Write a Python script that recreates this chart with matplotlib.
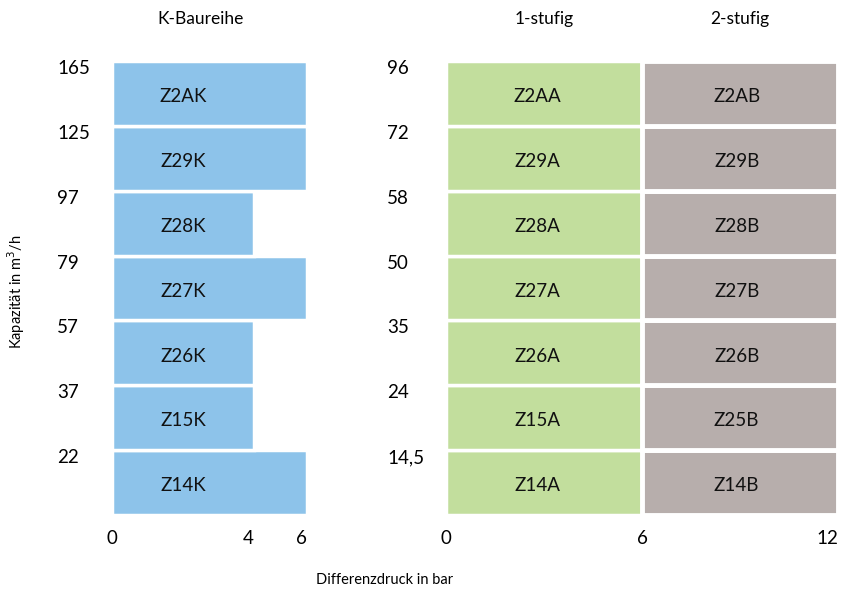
import numpy as np
import matplotlib
matplotlib.use('Agg')
import matplotlib.pyplot as plt
from matplotlib.transforms import ScaledTranslation, blended_transform_factory

plt.rcParams['font.family'] = ['Lato', 'DejaVu Sans']

# data, bottom row first
k_caps = ['22', '37', '57', '79', '97', '125', '165']
k_models = ['Z14K', 'Z15K', 'Z26K', 'Z27K', 'Z28K', 'Z29K', 'Z2AK']
k_dp = [6, 4, 4, 6, 4, 6, 6]

ab_caps = ['14,5', '24', '35', '50', '58', '72', '96']
a_models = ['Z14A', 'Z15A', 'Z26A', 'Z27A', 'Z28A', 'Z29A', 'Z2AA']
b_models = ['Z14B', 'Z25B', 'Z26B', 'Z27B', 'Z28B', 'Z29B', 'Z2AB']
a_dp = [6, 6, 6, 6, 6, 6, 6]
b_dp = [6, 6, 6, 6, 6, 6, 6]

blue = '#8dc3ea'
green = '#c2de9d'
taupe = '#b7aeac'

fig = plt.figure(figsize=(8.44, 5.92), dpi=100)
axL = fig.add_axes([112/844, 77/592, 195/844, 454/592])
axR = fig.add_axes([446/844, 77/592, 392/844, 454/592])

# left axis is not linear in the original (0-4 wider than 4-6)
xp = [0, 4, 6]
pp = [0, 142, 195]
axL.set_xscale('function', functions=(lambda x: np.interp(x, xp, pp),
                                      lambda y: np.interp(y, pp, xp)))

rows = np.arange(len(k_models))

axL.barh(rows + 0.5, k_dp, height=1.0, color=blue, edgecolor='white', linewidth=2.5)
for r, m in zip(rows, k_models):
    axL.text(2, r + 0.45, m, ha='center', va='center', fontsize=13.5, color='#111111')

axR.barh(rows + 0.5, a_dp, height=1.0, color=green, edgecolor='white', linewidth=2.5)
axR.barh(rows + 0.5, b_dp, left=a_dp, height=1.0, color=taupe, edgecolor='white', linewidth=3.5)
for r, m in zip(rows, a_models):
    axR.text(2.8, r + 0.45, m, ha='center', va='center', fontsize=13.5, color='#111111')
for r, m in zip(rows, b_models):
    axR.text(8.9, r + 0.45, m, ha='center', va='center', fontsize=13.5, color='#111111')

axL.set_xlim(0, 6)
axR.set_xlim(0, 12)
axL.set_xticks([0, 4, 6])
axR.set_xticks([0, 6, 12])

off = ScaledTranslation(0, -6/100, fig.dpi_scale_trans)
for ax, caps, pad in [(axL, k_caps, 39.6), (axR, ab_caps, 42.5)]:
    ax.set_ylim(0, len(caps))
    ax.set_yticks(rows + 1)
    ax.set_yticklabels(caps)
    ax.tick_params(axis='y', length=0, pad=pad, labelsize=13.5)
    ax.tick_params(axis='x', length=0, pad=11, labelsize=13.5)
    for lab in ax.get_yticklabels():
        lab.set_horizontalalignment('left')
        lab.set_transform(lab.get_transform() + off)
    for s in ax.spines.values():
        s.set_visible(False)

xl = axL.get_xticklabels()
xl[1].set_horizontalalignment('right')
xl[2].set_horizontalalignment('right')
xr = axR.get_xticklabels()
xr[2].set_horizontalalignment('right')

tL = blended_transform_factory(axL.transData, fig.transFigure)
tR = blended_transform_factory(axR.transData, fig.transFigure)
axL.text(2.5, 1 - 19/592, 'K-Baureihe', transform=tL, ha='center', va='center', fontsize=12.5)
axR.text(3, 1 - 19/592, '1-stufig', transform=tR, ha='center', va='center', fontsize=12.5)
axR.text(9, 1 - 19/592, '2-stufig', transform=tR, ha='center', va='center', fontsize=12.5)

fig.text(385/844, 1 - 580/592, 'Differenzdruck in bar', ha='center', va='center', fontsize=10.5)
fig.text(16/844, 1 - 292/592, 'Kapazität in m$^3$/h', rotation=90, ha='center', va='center', fontsize=10.5)

fig.savefig('out.png', dpi=100)
